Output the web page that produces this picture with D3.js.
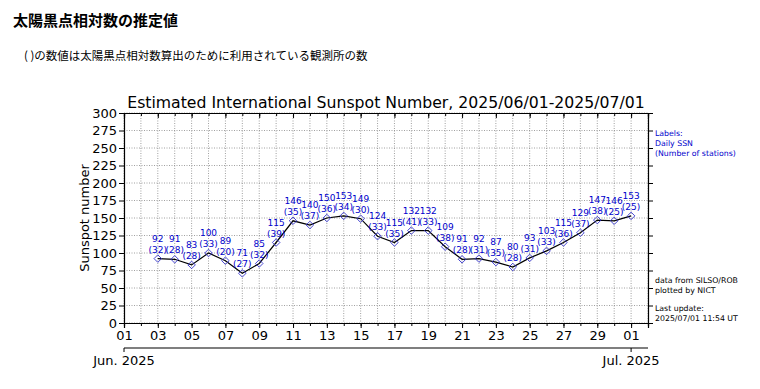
<!DOCTYPE html>
<html>
<head>
<meta charset="utf-8">
<script src="https://cdn.jsdelivr.net/npm/d3@7"></script>
<style>
  body { margin: 0; background: #fff; }
  svg { display: block; }
</style>
</head>
<body>
<div id="chart"></div>
<script>
// daily estimated SSN, 2025/06/03 - 2025/07/01
var dates = ['2025-06-03','2025-06-04','2025-06-05','2025-06-06','2025-06-07','2025-06-08','2025-06-09',
  '2025-06-10','2025-06-11','2025-06-12','2025-06-13','2025-06-14','2025-06-15','2025-06-16','2025-06-17',
  '2025-06-18','2025-06-19','2025-06-20','2025-06-21','2025-06-22','2025-06-23','2025-06-24','2025-06-25',
  '2025-06-26','2025-06-27','2025-06-28','2025-06-29','2025-06-30','2025-07-01'];
var ssn = [92,91,83,100,89,71,85,115,146,140,150,153,149,124,115,132,132,109,91,92,87,80,93,103,115,129,147,146,153];
var stations = [32,28,28,33,20,27,32,39,35,37,36,34,30,33,35,41,33,38,28,31,35,28,31,33,36,37,38,25,25];
var yTicks = [0,25,50,75,100,125,150,175,200,225,250,275,300];

var parse = d3.timeParse('%Y-%m-%d');
var W = 760, H = 389;
var margin = {top: 113, right: 112, bottom: 66, left: 124},
    width = W - margin.left - margin.right,
    height = H - margin.top - margin.bottom;

var svg = d3.select('#chart').append('svg')
    .attr('width', W)
    .attr('height', H);

// page header (japanese)
svg.append('text')
    .attr('x', 13).attr('y', 26)
    .style('font-family', '"Noto Sans CJK JP", sans-serif')
    .style('font-size', '15px').style('font-weight', 'bold')
    .text('太陽黒点相対数の推定値');
svg.append('text')
    .attr('x', 24).attr('y', 60)
    .style('font-family', '"Noto Sans CJK JP", sans-serif')
    .style('font-size', '11.5px')
    .text('( )の数値は太陽黒点相対数算出のために利用されている観測所の数');

var g = svg.append('g')
    .attr('transform', 'translate(' + margin.left + ',' + margin.top + ')');

var x = d3.scaleTime()
    .domain([parse('2025-06-01'), parse('2025-07-02')])
    .range([0, width]);
var y = d3.scaleLinear().domain([0, 300]).range([height, 0]);

var data = dates.map(function(d, i) { return {date: parse(d), v: ssn[i], n: stations[i]}; });

var font = '"DejaVu Sans", sans-serif';

// grid
var days = d3.timeDay.range(parse('2025-06-01'), parse('2025-07-03'));
g.append('g').selectAll('line')
    .data(days)
  .enter().append('line')
    .attr('x1', function(d){ return x(d); }).attr('x2', function(d){ return x(d); })
    .attr('y1', 0).attr('y2', height)
    .attr('stroke', '#888').attr('stroke-width', 0.8).attr('stroke-dasharray', '1,1.5');
g.append('g').selectAll('line')
    .data(yTicks)
  .enter().append('line')
    .attr('x1', 0).attr('x2', width)
    .attr('y1', function(d){ return y(d); }).attr('y2', function(d){ return y(d); })
    .attr('stroke', '#888').attr('stroke-width', 0.8).attr('stroke-dasharray', '1,1.5');

// axes
var majorDays = days.filter(function(d, i){ return i % 2 === 0; });
var xAxis = d3.axisBottom(x).tickValues(majorDays).tickFormat(d3.timeFormat('%d')).tickSize(5).tickPadding(3);
var gx = g.append('g').attr('transform', 'translate(0,' + height + ')').call(xAxis);
// minor ticks
g.append('g').attr('transform', 'translate(0,' + height + ')')
    .call(d3.axisBottom(x).tickValues(days).tickFormat('').tickSize(3));
g.append('g').call(d3.axisTop(x).tickValues(majorDays).tickFormat('').tickSize(-5));
g.append('g').call(d3.axisTop(x).tickValues(days).tickFormat('').tickSize(-3));

var gy = g.append('g').call(d3.axisLeft(y).tickValues(yTicks).tickSize(5).tickPadding(2));
g.append('g').attr('transform', 'translate(' + width + ',0)')
    .call(d3.axisRight(y).tickValues(yTicks).tickFormat('').tickSize(5));

g.selectAll('.domain').attr('stroke', '#000').attr('stroke-width', 1.2);
g.selectAll('.tick line').attr('stroke', '#000');
gx.selectAll('text').style('font-family', font).style('font-size', '13px').attr('fill', '#000');
gy.selectAll('text').style('font-family', font).style('font-size', '13px').attr('fill', '#000');

// month axis
var gm = g.append('g').attr('transform', 'translate(0,' + (height + 25) + ')');
gm.append('line').attr('x1', 0).attr('x2', width).attr('stroke', '#000').attr('stroke-width', 1.2);
[parse('2025-06-01'), parse('2025-07-01')].forEach(function(d) {
  gm.append('line').attr('x1', x(d)).attr('x2', x(d)).attr('y1', 0).attr('y2', 4).attr('stroke', '#000');
  gm.append('text')
      .attr('x', x(d)).attr('y', 17)
      .attr('text-anchor', 'middle')
      .style('font-family', font).style('font-size', '13px')
      .text(d3.timeFormat('%b. %Y')(d));
});

// y label
g.append('text')
    .attr('transform', 'translate(-35,' + (height / 2) + ') rotate(-90)')
    .attr('text-anchor', 'middle')
    .style('font-family', font).style('font-size', '13px')
    .text('Sunspot number');

// title
g.append('text')
    .attr('x', width / 2).attr('y', -5)
    .attr('text-anchor', 'middle')
    .style('font-family', font).style('font-size', '15.7px')
    .text('Estimated International Sunspot Number, 2025/06/01-2025/07/01');

// line + markers
var line = d3.line().x(function(d){ return x(d.date); }).y(function(d){ return y(d.v); });
g.append('path').datum(data)
    .attr('d', line).attr('fill', 'none').attr('stroke', '#000').attr('stroke-width', 1.2);

var diamond = d3.symbol().type(d3.symbolDiamond2).size(36);
g.selectAll('.pt').data(data)
  .enter().append('path')
    .attr('class', 'pt')
    .attr('d', diamond)
    .attr('transform', function(d){ return 'translate(' + x(d.date) + ',' + y(d.v) + ')'; })
    .attr('fill', 'none').attr('stroke', '#3333cc').attr('stroke-width', 0.9);

var lbl = g.selectAll('.lbl').data(data).enter().append('g').attr('class', 'lbl')
    .attr('transform', function(d){ return 'translate(' + x(d.date) + ',' + y(d.v) + ')'; });
lbl.append('text').attr('y', -17).attr('text-anchor', 'middle')
    .style('font-family', font).style('font-size', '9px').attr('fill', '#0000cc')
    .text(function(d){ return d.v; });
lbl.append('text').attr('y', -6).attr('text-anchor', 'middle')
    .style('font-family', font).style('font-size', '9px').attr('fill', '#0000cc')
    .text(function(d){ return '(' + d.n + ')'; });

// side notes
var notes = svg.append('g').style('font-family', font).style('font-size', '7.8px');
['Labels:', 'Daily SSN', '(Number of stations)'].forEach(function(t, i) {
  notes.append('text').attr('x', 655).attr('y', 136 + i * 10).attr('fill', '#0000cc').text(t);
});
['data from SILSO/ROB', 'plotted by NICT'].forEach(function(t, i) {
  notes.append('text').attr('x', 655).attr('y', 283 + i * 10).text(t);
});
['Last update:', '2025/07/01 11:54 UT'].forEach(function(t, i) {
  notes.append('text').attr('x', 655).attr('y', 311 + i * 10).text(t);
});
</script>
</body>
</html>
